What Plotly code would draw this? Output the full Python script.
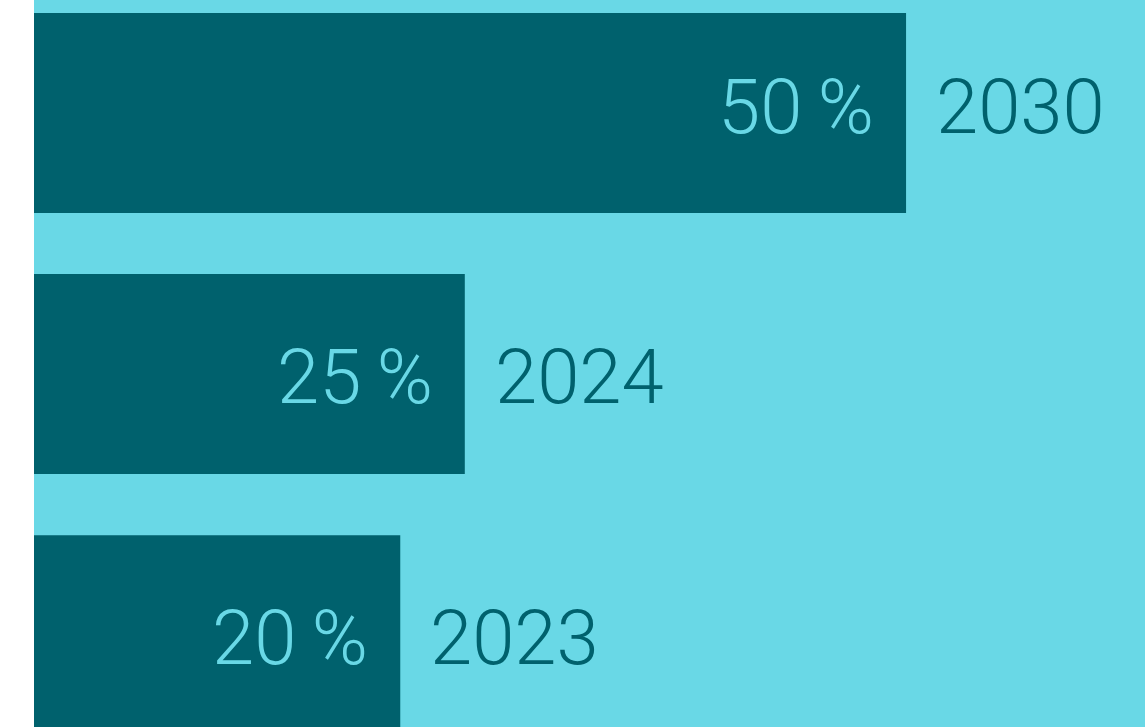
import plotly.graph_objects as go

years = ["2023", "2024", "2030"]
bar_lengths = [21.0, 24.7, 50.0]
pct_labels = ["20\u2009%", "25\u2009%", "50\u2009%"]

DARK = "#00616D"
LIGHT = "#69D8E6"
FONT = "Roboto"
label_yshift = [-3, -3, 6]

y_pos = list(range(len(years)))

fig = go.Figure(go.Bar(
    x=bar_lengths, y=y_pos, orientation="h",
    marker=dict(color=DARK, line=dict(width=0)),
    hoverinfo="skip",
))

for yp, val, pct, yr, ys in zip(y_pos, bar_lengths, pct_labels, years, label_yshift):
    fig.add_annotation(x=val, y=yp, text=pct, showarrow=False,
                       xanchor="right", yanchor="middle", xshift=-30, yshift=ys,
                       font=dict(family=FONT, size=76, color=LIGHT, weight=300))
    fig.add_annotation(x=val, y=yp, text=yr, showarrow=False,
                       xanchor="left", yanchor="middle", xshift=28, yshift=ys,
                       font=dict(family=FONT, size=76, color=DARK, weight=300))

fig.update_layout(
    width=1145, height=727,
    margin=dict(l=34, r=0, t=0, b=0),
    paper_bgcolor="white", plot_bgcolor=LIGHT,
    bargap=0.234, showlegend=False,
    xaxis=dict(range=[0, 63.7], visible=False, fixedrange=True),
    yaxis=dict(range=[-0.352, 2.433], visible=False, fixedrange=True),
)

fig.write_html("out.html", config={"displayModeBar": False},
               post_script="document.body.style.margin='0';document.body.style.overflow='hidden';")
